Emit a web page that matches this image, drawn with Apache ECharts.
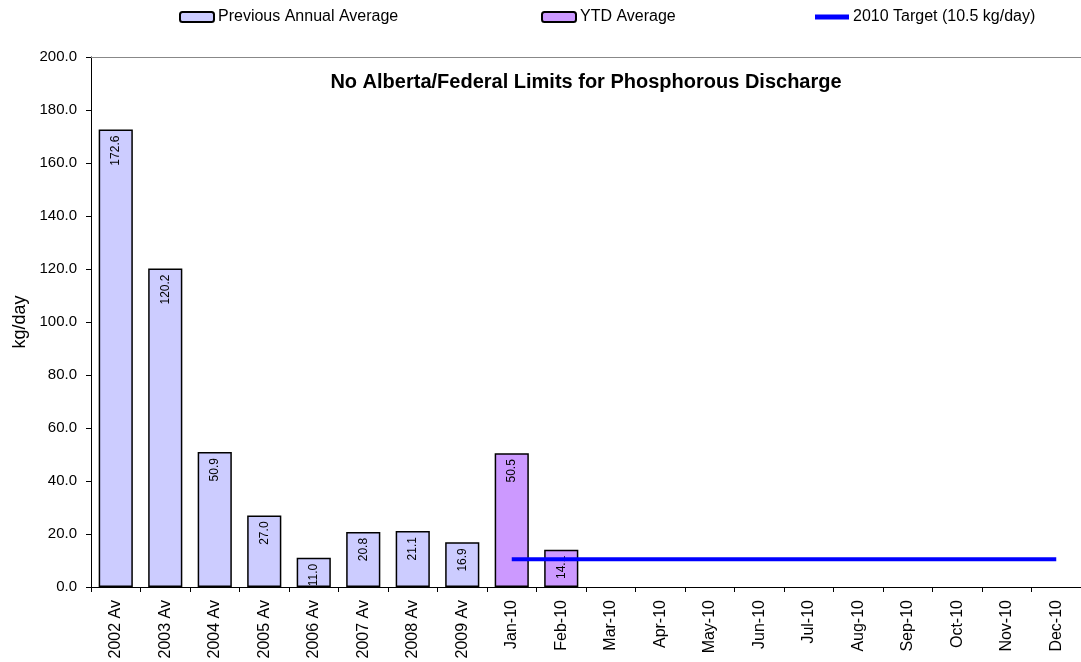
<!DOCTYPE html>
<html>
<head>
<meta charset="utf-8">
<script src="https://cdn.jsdelivr.net/npm/echarts@6/dist/echarts.min.js"></script>
<style>html,body{margin:0;padding:0;background:#fff}#c{width:1081px;height:662px}</style>
</head>
<body>
<div id="c"></div>
<script>
const categories = ['2002 Av','2003 Av','2004 Av','2005 Av','2006 Av','2007 Av','2008 Av','2009 Av','Jan-10','Feb-10','Mar-10','Apr-10','May-10','Jun-10','Jul-10','Aug-10','Sep-10','Oct-10','Nov-10','Dec-10'];
const previousAnnual = [172.6,120.2,50.9,27.0,11.0,20.8,21.1,16.9,null,null,null,null,null,null,null,null,null,null,null,null];
const ytdAverage = [null,null,null,null,null,null,null,null,50.5,14.1,null,null,null,null,null,null,null,null,null,null];
const target2010 = [null,null,null,null,null,null,null,null,10.5,10.5,10.5,10.5,10.5,10.5,10.5,10.5,10.5,10.5,10.5,10.5];
const yTicks = {min:0, max:200, interval:20};
const titleText = 'No Alberta/Federal Limits for Phosphorous Discharge';

const FONT = 'Liberation Sans, Arial, sans-serif';
const chart = echarts.init(document.getElementById('c'), null, {renderer:'canvas'});
const barLabel = {
  show:true, position:'insideTop', rotate:90, align:'right', verticalAlign:'middle',
  distance:6, fontFamily:FONT, fontSize:12, color:'#000',
  formatter: p => p.value == null ? '' : Number(p.value).toFixed(1)
};
const legendCommon = {top:4, itemWidth:34, itemHeight:10, itemGap:4,
  textStyle:{fontFamily:FONT, fontSize:16, color:'#000', padding:[0,0,0,-1]}};
chart.setOption({
  animation:false,
  backgroundColor:'#fff',
  grid:{left:91, right:-4, top:57, bottom:75, containLabel:false},
  legend:[
    Object.assign({left:174, data:['Previous Annual Average']}, legendCommon),
    Object.assign({left:536, data:['YTD Average']}, legendCommon),
    Object.assign({left:810, data:[{name:'2010 Target (10.5 kg/day)', icon:'rect'}]}, legendCommon, {itemHeight:5})
  ],
  graphic:[{type:'text', x:586, y:72, style:{text:titleText, fontFamily:FONT, fontSize:20, fontWeight:'bold', fill:'#000', textAlign:'center'}}],
  xAxis:[{
    type:'category', data:categories, boundaryGap:true,
    axisLine:{lineStyle:{color:'#000', width:1}},
    axisTick:{show:true, length:5, lineStyle:{color:'#000'}},
    axisLabel:{rotate:90, interval:0, margin:13, fontFamily:FONT, fontSize:16, color:'#000'},
    splitLine:{show:false}
  },{
    type:'category', data:categories, position:'top',
    axisLine:{show:true, lineStyle:{color:'#888', width:1}},
    axisTick:{show:false}, axisLabel:{show:false}
  }],
  yAxis:{
    type:'value', min:yTicks.min, max:yTicks.max, interval:yTicks.interval,
    name:'kg/day', nameLocation:'middle', nameGap:58, nameRotate:90,
    nameTextStyle:{fontFamily:FONT, fontSize:18, color:'#000'},
    axisLine:{show:true, lineStyle:{color:'#000'}},
    axisTick:{show:true, length:5, lineStyle:{color:'#000'}},
    axisLabel:{fontFamily:FONT, fontSize:15, color:'#000', margin:14, formatter:v=>v.toFixed(1)},
    splitLine:{show:false}
  },
  series:[
    {name:'Previous Annual Average', type:'bar', data:previousAnnual, barGap:'-100%', barCategoryGap:'31%',
      itemStyle:{color:'#CCCCFF', borderColor:'#000', borderWidth:1.5}, label:barLabel},
    {name:'YTD Average', type:'bar', data:ytdAverage, barGap:'-100%', barCategoryGap:'31%',
      itemStyle:{color:'#CC99FF', borderColor:'#000', borderWidth:1.5}, label:barLabel},
    {name:'2010 Target (10.5 kg/day)', type:'line', data:target2010, symbol:'none', z:5,
      lineStyle:{color:'#0000FF', width:4}, itemStyle:{color:'#0000FF'}}
  ]
});
</script>
</body>
</html>
